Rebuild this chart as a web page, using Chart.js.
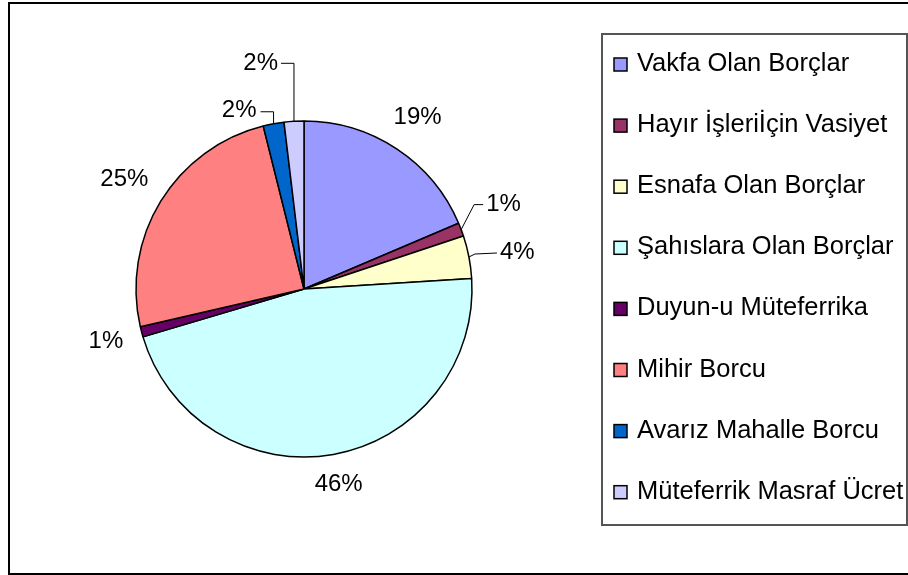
<!DOCTYPE html>
<html>
<head>
<meta charset="utf-8">
<script src="https://cdn.jsdelivr.net/npm/chart.js@4"></script>
<style>
    body { margin: 0; background: #ffffff; }
    canvas { display: block; }
</style>
</head>
<body>
<canvas id="chart" width="908" height="575"></canvas>
<script>
const categories = [
    "Vakfa Olan Borçlar",
    "Hayır İşleriİçin Vasiyet",
    "Esnafa Olan Borçlar",
    "Şahıslara Olan Borçlar",
    "Duyun-u Müteferrika",
    "Mihir Borcu",
    "Avarız Mahalle Borcu",
    "Müteferrik Masraf Ücret"
];
const shares = [18.6, 1.3, 4.1, 46.4, 1.0, 24.7, 2.0, 1.9];
const colors = ["#9999FF", "#993366", "#FFFFCC", "#CCFFFF", "#660066", "#FF8080", "#0066CC", "#CCCCFF"];

const FONT = "'Liberation Sans', Arial, sans-serif";

// small slices get a leader line: elbow, end of line, label anchor (relative to arc point)
const leaders = {
    1: { elbow: [13, -25], end: [22, -25], text: [25, -25], align: "left" },
    2: { elbow: [6, -3], end: [28, -4], text: [31, -5], align: "left" },
    6: { elbow: [0, -12], end: [-13, -12], text: [-17, -13], align: "right" },
    7: { elbow: [0, -58], end: [-13, -58], text: [-16, -58], align: "right" }
};

const framePlugin = {
    id: "frame",
    beforeDraw(chart) {
        const ctx = chart.ctx;
        ctx.save();
        ctx.fillStyle = "#ffffff";
        ctx.fillRect(0, 0, chart.width, chart.height);
        ctx.strokeStyle = "#000000";
        ctx.lineWidth = 2;
        ctx.strokeRect(9, 3, 910, 571);
        ctx.restore();
    }
};

const labelPlugin = {
    id: "pieLabels",
    afterDatasetsDraw(chart) {
        const ctx = chart.ctx;
        const arcs = chart.getDatasetMeta(0).data;
        ctx.save();
        ctx.font = `24px ${FONT}`;
        ctx.fillStyle = "#000000";
        ctx.textBaseline = "middle";
        arcs.forEach((arc, i) => {
            const mid = (arc.startAngle + arc.endAngle) / 2;
            const dx = Math.cos(mid), dy = Math.sin(mid);
            const ax = arc.x + arc.outerRadius * dx;
            const ay = arc.y + arc.outerRadius * dy;
            const text = Math.round(shares[i]) + "%";
            const lead = leaders[i];
            if (lead) {
                ctx.strokeStyle = "#000000";
                ctx.lineWidth = 1;
                ctx.beginPath();
                ctx.moveTo(ax, ay);
                ctx.lineTo(ax + lead.elbow[0], ay + lead.elbow[1]);
                ctx.lineTo(ax + lead.end[0], ay + lead.end[1]);
                ctx.stroke();
                ctx.textAlign = lead.align;
                ctx.fillText(text, ax + lead.text[0], ay + lead.text[1]);
            } else {
                const w = ctx.measureText(text).width;
                const d = arc.outerRadius + 18 + Math.abs(dx) * w / 2 + Math.abs(dy) * 8;
                ctx.textAlign = "center";
                ctx.fillText(text, arc.x + d * dx, arc.y + d * dy);
            }
        });
        ctx.restore();
    }
};

const legendPlugin = {
    id: "boxLegend",
    afterDraw(chart) {
        const ctx = chart.ctx;
        ctx.save();
        ctx.strokeStyle = "#555555";
        ctx.lineWidth = 2;
        ctx.strokeRect(602, 34, 305, 491);
        ctx.font = `25.5px ${FONT}`;
        ctx.textBaseline = "middle";
        ctx.textAlign = "left";
        categories.forEach((name, i) => {
            const y = 64 + i * 61.1;
            ctx.fillStyle = colors[i];
            ctx.fillRect(614, y - 6, 13, 13);
            ctx.strokeStyle = "#000000";
            ctx.lineWidth = 1.5;
            ctx.strokeRect(614, y - 6, 13, 13);
            ctx.fillStyle = "#000000";
            ctx.fillText(name, 637, y);
        });
        ctx.restore();
    }
};

new Chart(document.getElementById("chart"), {
    type: "pie",
    data: {
        labels: categories,
        datasets: [{
            data: shares,
            backgroundColor: colors,
            borderColor: "#000000",
            borderWidth: 1.5,
            radius: 168
        }]
    },
    options: {
        responsive: false,
        animation: false,
        devicePixelRatio: 1,
        layout: {
            padding: { left: 136, right: 436, top: 121, bottom: 118 }
        },
        plugins: {
            legend: { display: false },
            tooltip: { enabled: false }
        }
    },
    plugins: [framePlugin, labelPlugin, legendPlugin]
});
</script>
</body>
</html>
